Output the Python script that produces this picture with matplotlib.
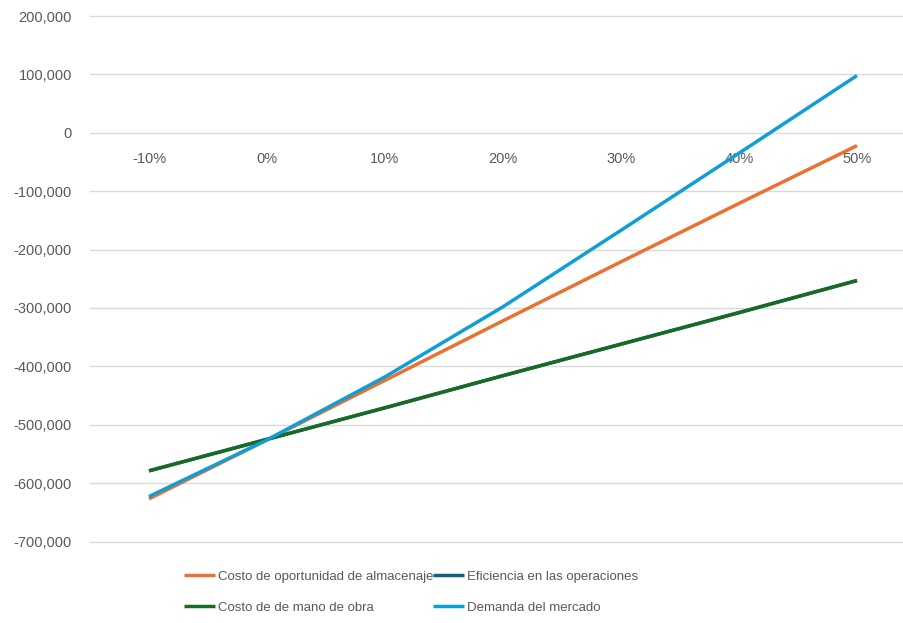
import matplotlib
matplotlib.use("Agg")
import matplotlib.pyplot as plt
from matplotlib.ticker import FuncFormatter

plt.rcParams['font.family'] = ['Liberation Sans', 'DejaVu Sans']

# escenarios de variacion y resultado (en pesos) por factor
escenarios = ['-10%', '0%', '10%', '20%', '30%', '40%', '50%']
oportunidad = [-627000, -526000, -424000, -322000, -221000, -121000, -22000]
eficiencia = [-579000, -525000, -471000, -416000, -362000, -308000, -253000]
mano_obra = [-579000, -525000, -471000, -416000, -362000, -308000, -253000]
demanda = [-623000, -526000, -418000, -298000, -167000, -35000, 98000]

series = [
    ('Costo de oportunidad de almacenaje', oportunidad, '#E97132'),
    ('Eficiencia en las operaciones', eficiencia, '#156082'),
    ('Costo de de mano de obra', mano_obra, '#196B24'),
    ('Demanda del mercado', demanda, '#0F9ED5'),
]

W, H = 904, 623
fig = plt.figure(figsize=(W / 100, H / 100), dpi=100)
ax = fig.add_axes([90 / W, 1 - 541.5 / H, (W - 90) / W, (541.5 - 16) / H])

x = list(range(len(escenarios)))
handles = {}
for nombre, valores, color in series:
    ln, = ax.plot(x, valores, color=color, lw=2.5, solid_capstyle='butt')
    handles[nombre] = ln

ax.set_ylim(-700000, 200000)
ax.set_yticks(range(-700000, 200001, 100000))
ax.yaxis.set_major_formatter(FuncFormatter(lambda v, p: f'{v:,.0f}'))
ax.set_xlim(-0.5, 6.5 - 12 / 118)
ax.set_xticks(x)
ax.set_xticklabels(escenarios)

ax.grid(axis='y', color='#D9D9D9', lw=1)
for g in ax.get_ygridlines():
    g.set_clip_on(False)
ax.set_axisbelow(True)
for s in ax.spines.values():
    s.set_visible(False)
ax.spines['bottom'].set_position(('data', 0))
ax.tick_params(axis='both', length=0, colors='#595959', labelsize=10.5)
ax.tick_params(axis='y', pad=13)
ax.tick_params(axis='x', pad=14)

orden = ['Costo de oportunidad de almacenaje', 'Costo de de mano de obra',
         'Eficiencia en las operaciones', 'Demanda del mercado']
leg = fig.legend([handles[n] for n in orden], orden, ncol=2, frameon=False,
                 loc='upper left', bbox_to_anchor=(179 / W, 1 - 565 / H),
                 fontsize=9.5, handlelength=2.35, handletextpad=0.2,
                 columnspacing=0.0, labelspacing=1.45, borderaxespad=0)
for t in leg.get_texts():
    t.set_color('#595959')

fig.savefig('out.png', dpi=100)
